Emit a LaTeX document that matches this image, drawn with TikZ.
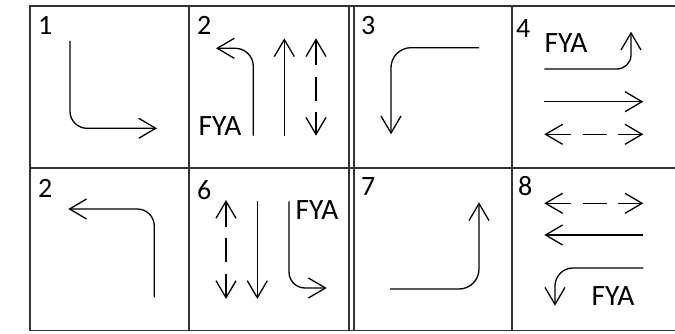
\documentclass[tikz,border=0pt]{standalone}
\usepackage{fontspec}
\setmainfont{Carlito}
\usetikzlibrary{arrows.meta}
\begin{document}
\begin{tikzpicture}[x=1pt,y=-1pt,
  grid/.style={line width=1.8pt, draw=black!80},
  arr/.style={line width=1.3pt, -{Straight Barb[length=17pt,width=20pt]}},
  darr/.style={line width=1.3pt, {Straight Barb[length=17pt,width=20pt]}-{Straight Barb[length=17pt,width=20pt]},
               dash pattern=on 25pt off 11.5pt on 24pt off 11.5pt on 40pt},
  num/.style={anchor=base west, inner sep=0pt, font=\fontsize{28}{32}\selectfont},
  lbl/.style={anchor=base west, inner sep=0pt, font=\fontsize{29.5}{34}\selectfont}]
\useasboundingbox (0,0) rectangle (675,334);

% table rules
\draw[grid] (675,6) -- (30,6) -- (30,330.5) -- (675,330.5);
\draw[grid] (30,168) -- (675,168);
\foreach \cx in {189,349,354,512}
  \draw[grid] (\cx,6) -- (\cx,330.5);

% phase numbers
\node[num] (n1) at (38,34.3) {1};
\node[num] (n2) at (197,34.3) {2};
\node[num] (n3) at (361,34.3) {3};
\node[num] (n4) at (516,38) {4};
\node[num] (n5) at (38,197.5) {2};
\node[num] (n6) at (197,200) {6};
\node[num] (n7) at (361,196) {7};
\node[num] (n8) at (518,196) {8};

% flashing yellow arrow labels
\node[lbl] (f2) at (198.5,136) {FYA};
\node[lbl] (f4) at (544.5,52.3) {FYA};
\node[lbl] (f6) at (295.5,219) {FYA};
\node[lbl] (f8) at (591.5,305.7) {FYA};

% phase 1
\draw[arr, rounded corners=17pt] (70,41) |- (157,128.3);
% phase 2 (top)
\draw[arr, rounded corners=18pt] (253.3,135.7) |- (216,48.3);
\draw[arr] (284.3,135.7) -- (284.3,38.3);
\draw[darr] (316,38.3) -- (316,135.7);
% phase 3
\draw[arr, rounded corners=20pt] (479,47.7) -| (391,134.3);
% phase 4
\draw[arr, rounded corners=14pt] (544.3,69) -| (631,31.7);
\draw[arr] (544.3,101.7) -- (643.3,101.7);
\draw[darr] (544.3,134.3) -- (643.3,134.3);
% phase 2 (bottom)
\draw[arr, rounded corners=17pt] (154.3,297.3) |- (68.3,209);
% phase 6
\draw[darr] (226,200) -- (226,299);
\draw[arr] (257.3,200.7) -- (257.3,299);
\draw[arr, rounded corners=16pt] (289,201.3) |- (326.7,288);
% phase 7
\draw[arr, rounded corners=20pt] (390,289) -| (479,202.3);
% phase 8
\draw[darr] (544.3,203.3) -- (643.3,203.3);
\draw[arr] (643.3,235) -- (544.3,235);
\draw[arr, rounded corners=18pt] (643.3,268) -| (555,305.7);
\end{tikzpicture}
\end{document}
